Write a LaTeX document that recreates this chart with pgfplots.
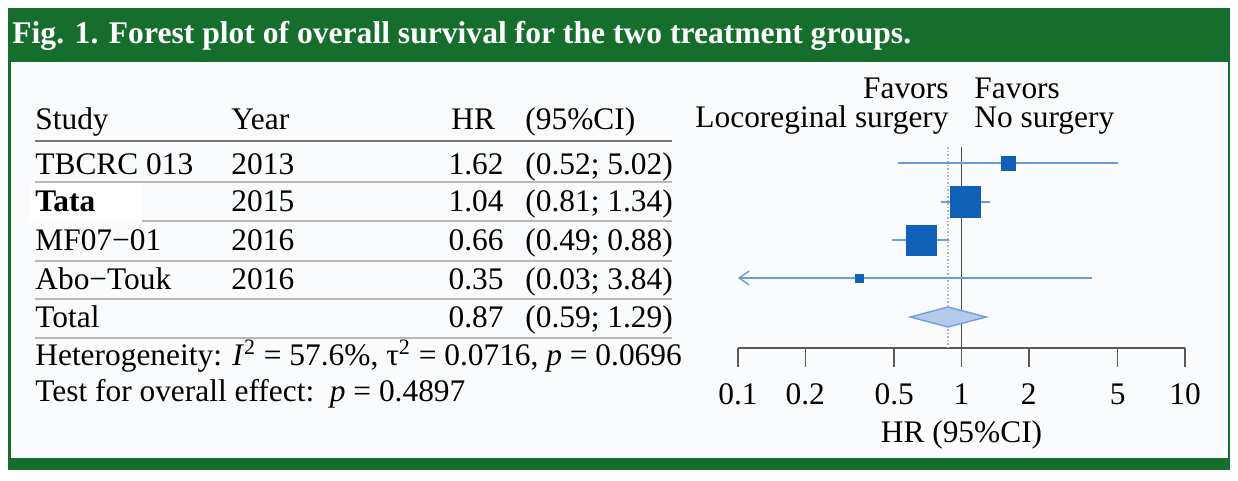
\documentclass[border=0pt]{standalone}
\usepackage{pgfplots}
\pgfplotsset{compat=1.18}
\usepackage{fontspec}
\setmainfont{Liberation Serif}
\usetikzlibrary{arrows.meta}
\definecolor{figgreen}{RGB}{22,110,44}
\definecolor{bgcol}{RGB}{250,251,252}
\definecolor{ciblue}{RGB}{100,160,215}
\definecolor{sqblue}{RGB}{16,96,184}
\definecolor{dmfill}{RGB}{180,203,235}
\definecolor{dmdraw}{RGB}{110,160,220}
\definecolor{hdrule}{RGB}{120,120,120}
\definecolor{rowrule}{RGB}{185,185,185}
\newcommand\txt{\fontsize{15.7}{18}\selectfont}
\begin{document}
\begin{tikzpicture}[x=0.5pt,y=-0.5pt]
\fill[white] (0,0) rectangle (1238,481);
\fill[bgcol] (8,8) rectangle (1230,470);
\fill[figgreen] (8,8) rectangle (1230,62);
\fill[figgreen] (8,458) rectangle (1230,470);
\fill[figgreen] (8,62) rectangle (10.5,458);
\fill[figgreen] (1227.5,62) rectangle (1230,458);
\fill[white] (30,183.5) rectangle (142,220);
\node[anchor=base west, inner sep=0pt, text=white, font=\bfseries\fontsize{15.8}{18}\selectfont] at (12,44) {Fig. 1. Forest plot of overall survival for the two treatment groups.};
% table header
\begin{scope}[every node/.style={inner sep=0pt, font=\txt}]
\node[anchor=base west] at (35,130) {Study};
\node[anchor=base west] at (231,130) {Year};
\node[anchor=base west] at (451,130) {HR};
\node[anchor=base west] at (525,130) {(95\%CI)};
\draw[hdrule, line width=1pt] (35,141) -- (672,141);
% rows
\node[anchor=base west] at (35,175) {TBCRC 013};
\node[anchor=base west] at (231,175) {2013};
\node[anchor=base east] at (504,175) {1.62};
\node[anchor=base west] at (525,175) {(0.52; 5.02)};
\draw[rowrule, line width=1pt] (35,182) -- (672,182);
\node[anchor=base west] at (35,212) {\bfseries Tata};
\node[anchor=base west] at (231,212) {2015};
\node[anchor=base east] at (504,212) {1.04};
\node[anchor=base west] at (525,212) {(0.81; 1.34)};
\draw[rowrule, line width=1pt] (142,221) -- (672,221);
\node[anchor=base west] at (35,250) {MF07−01};
\node[anchor=base west] at (231,250) {2016};
\node[anchor=base east] at (504,250) {0.66};
\node[anchor=base west] at (525,250) {(0.49; 0.88)};
\draw[rowrule, line width=1pt] (35,261) -- (672,261);
\node[anchor=base west] at (35,289) {Abo−Touk};
\node[anchor=base west] at (231,289) {2016};
\node[anchor=base east] at (504,289) {0.35};
\node[anchor=base west] at (525,289) {(0.03; 3.84)};
\draw[rowrule, line width=1pt] (35,299) -- (672,299);
\node[anchor=base west] at (35,327) {Total};
\node[anchor=base east] at (504,327) {0.87};
\node[anchor=base west] at (525,327) {(0.59; 1.29)};
\draw[rowrule, line width=1pt] (35,338) -- (672,338);
\node[anchor=base west] at (35,365) {Heterogeneity: \textit{I}\textsuperscript{2} = 57.6\%, τ\textsuperscript{2} = 0.0716, \textit{p} = 0.0696};
\node[anchor=base west] at (35,401) {Test for overall effect:\ \ \textit{p} = 0.4897};
% favors
\node[anchor=base east] at (949,99) {Favors};
\node[anchor=base east] at (949,128) {Locoreginal surgery};
\node[anchor=base west] at (974,99) {Favors};
\node[anchor=base west] at (974,128) {No surgery};
\end{scope}
\coordinate (SW) at (738,348);
\begin{axis}[at={(SW)}, anchor=south west, scale only axis,
  width=223.5pt, height=100.5pt,
  xmode=log, xmin=0.1, xmax=10, ymin=-348, ymax=-147,
  clip=false,
  axis x line*=bottom, axis y line=none,
  xtick={0.1,0.2,0.5,1,2,5,10},
  xticklabels={0.1,0.2,0.5,1,2,5,10},
  xminorticks=false,
  tick align=outside, major tick length=9.5pt,
  x axis line style={draw=black!65, line width=0.75pt},
  every tick/.style={draw=black!65, line width=0.75pt},
  xticklabel style={anchor=base, font=\txt, inner sep=0pt, yshift=-18.5pt},
  xlabel={HR (95\%CI)},
  x label style={at={(axis description cs:0.5,0)}, anchor=base, font=\txt, inner sep=0pt, yshift=-47pt},
]
\addplot[black!30, densely dotted, line width=0.75pt] coordinates {(0.87,-147) (0.87,-348)};
\addplot[black!70, line width=0.75pt] coordinates {(1,-147) (1,-348)};
% CIs
\addplot[ciblue, line width=0.7pt] coordinates {(0.52,-163) (5.02,-163)};
\addplot[ciblue, line width=0.7pt] coordinates {(0.81,-202) (1.34,-202)};
\addplot[ciblue, line width=0.7pt] coordinates {(0.49,-240) (0.88,-240)};
\addplot[ciblue, line width=0.7pt, {Straight Barb[length=5pt,width=7pt]}-] coordinates {(0.1,-278) (3.84,-278)};
% squares
\addplot[only marks, mark=square*, mark size=3.5pt, mark options={draw=sqblue, fill=sqblue}] coordinates {(1.62,-163)};
\addplot[only marks, mark=square*, mark size=7.7pt, mark options={draw=sqblue, fill=sqblue}] coordinates {(1.04,-202)};
\addplot[only marks, mark=square*, mark size=7.5pt, mark options={draw=sqblue, fill=sqblue}] coordinates {(0.66,-240)};
\addplot[only marks, mark=square*, mark size=2pt, mark options={draw=sqblue, fill=sqblue}] coordinates {(0.35,-278)};
% diamond
\addplot[fill=dmfill, draw=dmdraw, line width=0.7pt] coordinates {(0.59,-317) (0.87,-307) (1.29,-317) (0.87,-327)} -- cycle;
\end{axis}
\pgfresetboundingbox
\path (0,0) rectangle (1238,481);
\end{tikzpicture}
\end{document}
